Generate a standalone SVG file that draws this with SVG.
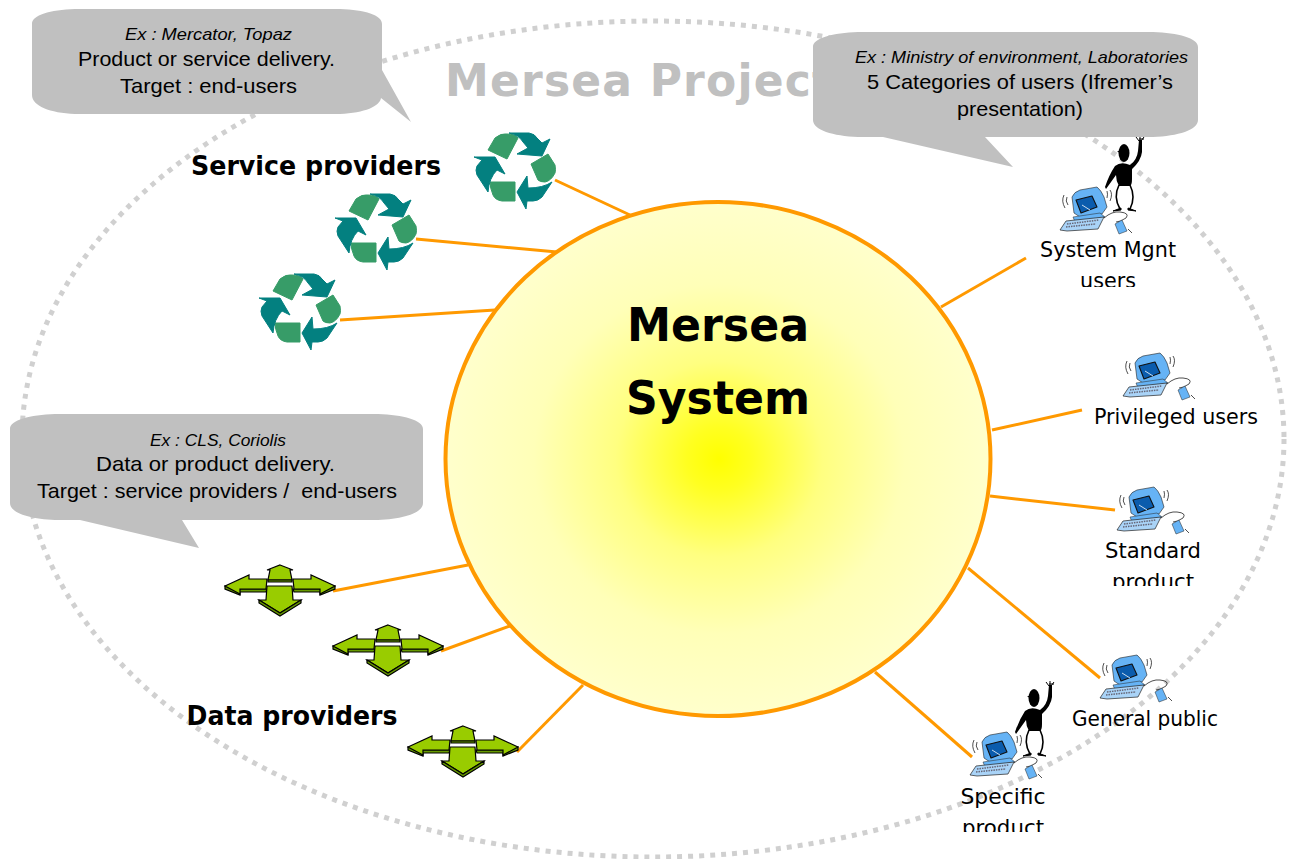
<svg xmlns="http://www.w3.org/2000/svg" xmlns:xlink="http://www.w3.org/1999/xlink" width="1295" height="859" viewBox="0 0 1295 859">
<style>
.conn{stroke:#ff9900;stroke-width:3;fill:none;stroke-linecap:butt}
.bubble{fill:#c0c0c0}
.ct{font-family:"Liberation Sans",Arial,sans-serif;text-anchor:middle;fill:#000;font-size:21px}
.ex{font-size:17px;font-style:italic}
.cm{font-family:"DejaVu Sans","Noto Sans",sans-serif;fill:#000;text-anchor:middle}
.lbl{font-size:21px}
.head{font-size:26px;font-weight:bold}
.t{fill:#038080;stroke:#038080;stroke-width:1;stroke-linejoin:round}
.g{fill:#379c68;stroke:#379c68;stroke-width:1;stroke-linejoin:round}
</style>
<defs>
<radialGradient id="sun" gradientUnits="objectBoundingBox" cx="0.502" cy="0.5" r="0.5">
<stop offset="0" stop-color="#ffff00"/><stop offset="0.12" stop-color="#ffff20"/><stop offset="0.38" stop-color="#ffff80"/><stop offset="0.68" stop-color="#ffffb8"/><stop offset="1" stop-color="#ffffcc"/>
</radialGradient>
<g id="recycle">
<path class="g" d="M-27-20L-20-32Q-14-37-8-36Q0-36 3-32L-8-11Z"/>
<path class="t" d="M-6-37L14-37Q20-36 22-32L27-27L35-31L27-14L2-16L13-22L8-28Q4-35-6-37Z"/>
<path class="g" d="M16-6L33-16L40-5Q41 0 40 3Q36 11 30 12Q25 12 23 10Z"/>
<path class="t" d="M12 6L13 18Q28 18 37 12L27 27Q23 31 18 31L12 31L11 39L2 22Z"/>
<path class="g" d="M-25 12L0 12L0 31L-13 31Q-20 30-22 25Q-25 18-25 12Z"/>
<path class="t" d="M-41-13L-20-13L-10 4L-18 0Q-26 8-27 22L-38 5Q-40 0-38-4L-33-10Z"/>
</g>
<g id="arrows" stroke="#000" stroke-width="1.2" stroke-linejoin="miter">
<path fill="#669900" d="M-55 3L-55 6L-40 12L-40 9L-14 9L-13 6L-40 6Z"/>
<path fill="#669900" d="M55 3L55 6L40 12L40 9L14 9L13 6L40 6Z"/>
<path fill="#99cc00" d="M-55 3L-31-8L-31-4L-13-4L-14 6L-40 6L-40 11Z"/>
<path fill="#99cc00" d="M55 3L31-8L31-4L13-4L14 6L40 6L40 11Z"/>
<path fill="#99cc00" d="M0-18L13-13L10-13L12-3L-12-3L-10-13L-13-13Z"/>
<path fill="#669900" d="M-12-3L12-3L12-1L-12-1Z"/>
<path fill="#99cc00" d="M-13 3L12 3L13 17L21 17L0 30L-21 17L-14 17Z"/>
<path fill="#669900" d="M-21 17L0 30L21 17L21 20L0 33L-21 20Z"/>
</g>
<g id="computer" stroke-linejoin="round">
<path fill="#66b3f5" stroke="#222" stroke-width=".6" d="M12 10Q14 5 20 3L37 0Q41 3 44 10L47 20L42 27L20 30L14 26Z"/>
<path fill="#0b5cad" stroke="#111" stroke-width="1.1" d="M16 13L32 9L37 20L21 26Z"/>
<path stroke="#cde" stroke-width="1" fill="none" d="M22 18L30 23"/>
<path fill="#66b3f5" stroke="#222" stroke-width=".5" d="M13 30L40 26L45 30L15 35Z"/>
<path fill="#a9d3f7" stroke="#222" stroke-width=".7" d="M0 43L6 34L44 30L38 42L7 44Z"/>
<path stroke="#667" stroke-width="1.5" stroke-dasharray="1.5 1" fill="none" d="M7 37L39 33M6 40L36 37"/>
<path fill="none" stroke="#222" stroke-width=".8" d="M44 31Q52 24 60 25Q70 26 66 31Q60 35 56 35"/>
<path fill="#66b3f5" stroke="#222" stroke-width=".5" d="M55 37L62 33L67 44L59 47Z"/>
<path fill="none" stroke="#222" stroke-width=".8" d="M4 8Q1 14 5 21M7 10Q5 14 8 18M50 3Q53 7 50 14M47 4Q48 7 47 11M68 42L72 46"/>
</g>
<g id="person">
<ellipse cx="0" cy="0" rx="5.5" ry="9"/>
<path d="M-7-2L-2-2L-3 1Z"/>
<path d="M-9 13Q-3 8 6 12Q13 7 14-2L15-13L18-13L18-1Q17 8 8 16L8 26Q8 32 6 33L-5 33Q-8 28-8 22L-18 36L-19 34Q-15 22-9 13Z"/>
<path d="M15-12L12-16M16-12L16-17M17-12L20-16M15-14L20-14" stroke="#000" stroke-width="1"/>
<path fill="none" stroke="#000" stroke-width="1.6" d="M-5 32Q-11 44-4 56M6 32Q12 44 6 56"/>
<path d="M-11 58L-3 55L-3 57ZM4 55L12 58L4 57Z" stroke="#000" stroke-width="1"/>
</g>
<clipPath id="c1"><rect x="1000" y="235" width="220" height="52"/></clipPath>
<clipPath id="c2"><rect x="1060" y="535" width="200" height="51"/></clipPath>
<clipPath id="c3"><rect x="930" y="780" width="150" height="52"/></clipPath>
</defs>

<g id="boundary">
<ellipse cx="653" cy="439" rx="631" ry="418" fill="none" stroke="#d0d0d0" stroke-width="5" stroke-dasharray="5 6"/>
</g>
<g id="project-title">
<text class="cm" x="445" y="96" style="font-size:44px;font-weight:bold;fill:#c0c0c0;text-anchor:start" textLength="388" lengthAdjust="spacing">Mersea Project</text>
</g>

<g id="connectors">
<path class="conn" d="M555 180L630 215"/>
<path class="conn" d="M416 239L557 252"/>
<path class="conn" d="M340 320L495 310"/>
<path class="conn" d="M333 591L468 565"/>
<path class="conn" d="M441 651L510 626"/>
<path class="conn" d="M517 752L583 685"/>
<path class="conn" d="M941 307L1026 258"/>
<path class="conn" d="M992 430L1082 410"/>
<path class="conn" d="M990 496L1115 510"/>
<path class="conn" d="M968 568L1100 678"/>
<path class="conn" d="M875 672L972 757"/>
</g>

<g id="mersea-system">
<ellipse cx="718" cy="459" rx="272.500" ry="257" fill="url(#sun)" stroke="#ff9900" stroke-width="4"/>
<text class="cm" x="718" y="341" style="font-size:46px;font-weight:bold" textLength="182" lengthAdjust="spacingAndGlyphs">Mersea</text>
<text class="cm" x="718" y="414" style="font-size:46px;font-weight:bold" textLength="184" lengthAdjust="spacingAndGlyphs">System</text>
</g>

<g id="service-providers">
<text class="cm head" x="316" y="175" textLength="250" lengthAdjust="spacingAndGlyphs">Service providers</text>
<use xlink:href="#recycle" href="#recycle" x="515" y="170"/>
<use xlink:href="#recycle" href="#recycle" x="376" y="231"/>
<use xlink:href="#recycle" href="#recycle" x="300" y="311"/>
</g>

<g id="data-providers">
<text class="cm head" x="292" y="725" textLength="211" lengthAdjust="spacingAndGlyphs">Data providers</text>
<use xlink:href="#arrows" href="#arrows" x="280" y="583"/>
<use xlink:href="#arrows" href="#arrows" x="388" y="643"/>
<use xlink:href="#arrows" href="#arrows" x="463" y="744"/>
</g>

<g id="system-mgnt-users">
<use xlink:href="#person" href="#person" x="1124" y="153"/>
<use xlink:href="#computer" href="#computer" x="1060" y="187"/>
<text class="cm lbl" x="1108" y="257" textLength="136" lengthAdjust="spacingAndGlyphs">System Mgnt</text>
<text class="cm lbl" x="1108" y="288" clip-path="url(#c1)" textLength="56" lengthAdjust="spacingAndGlyphs">users</text>
</g>
<g id="privileged-users">
<use xlink:href="#computer" href="#computer" x="1123" y="353"/>
<text class="cm lbl" x="1176" y="424" textLength="164" lengthAdjust="spacingAndGlyphs">Privileged users</text>
</g>
<g id="standard-product">
<use xlink:href="#computer" href="#computer" x="1117" y="487"/>
<text class="cm lbl" x="1153" y="558" textLength="96" lengthAdjust="spacingAndGlyphs">Standard</text>
<text class="cm lbl" x="1153" y="589" clip-path="url(#c2)" textLength="82" lengthAdjust="spacingAndGlyphs">product</text>
</g>
<g id="general-public">
<use xlink:href="#computer" href="#computer" x="1100" y="655"/>
<text class="cm lbl" x="1145" y="726" textLength="146" lengthAdjust="spacingAndGlyphs">General public</text>
</g>
<g id="specific-product">
<use xlink:href="#person" href="#person" x="1034" y="698"/>
<use xlink:href="#computer" href="#computer" x="970" y="732"/>
<text class="cm lbl" x="1003" y="804" textLength="85" lengthAdjust="spacingAndGlyphs">Specific</text>
<text class="cm lbl" x="1003" y="835" clip-path="url(#c3)" textLength="82" lengthAdjust="spacingAndGlyphs">product</text>
</g>

<g id="callout-service">
<path class="bubble" d="M75 9L340 9C365 10 382 15 382 24L382 70L411 122L381 98C380 106 365 113 340 114L75 114C50 113 32 106 32 95L32 24C32 15 50 10 75 9Z"/>
<text class="ct ex" x="208.500" y="40" textLength="167" lengthAdjust="spacingAndGlyphs">Ex : Mercator, Topaz</text>
<text class="ct" x="206.500" y="66" textLength="257" lengthAdjust="spacingAndGlyphs">Product or service delivery.</text>
<text class="ct" x="208.500" y="93" textLength="177" lengthAdjust="spacingAndGlyphs">Target : end-users</text>
</g>
<g id="callout-users">
<path class="bubble" d="M858 32L1153 32C1178 33 1198 38 1198 47L1198 120C1198 130 1178 136 1153 137L985 137L1013 167L883 137L858 137C833 136 813 130 813 120L813 47C813 38 833 33 858 32Z"/>
<text class="ct ex" x="1021.500" y="63" textLength="333" lengthAdjust="spacingAndGlyphs">Ex : Ministry of environment, Laboratories</text>
<text class="ct" x="1020" y="89" textLength="306" lengthAdjust="spacingAndGlyphs">5 Categories of users (Ifremer’s</text>
<text class="ct" x="1020" y="116" textLength="126" lengthAdjust="spacingAndGlyphs">presentation)</text>
</g>
<g id="callout-data">
<path class="bubble" d="M55 414L378 414C403 415 423 420 423 429L423 503C423 513 403 519 378 520L182 520L199 548L80 520L55 520C30 519 10 513 10 503L10 429C10 420 30 415 55 414Z"/>
<text class="ct ex" x="218" y="446" textLength="136" lengthAdjust="spacingAndGlyphs">Ex : CLS, Coriolis</text>
<text class="ct" x="215.500" y="471" textLength="239" lengthAdjust="spacingAndGlyphs">Data or product delivery.</text>
<text class="ct" x="217" y="498" textLength="360" lengthAdjust="spacingAndGlyphs">Target : service providers / &#160;end-users</text>
</g>
</svg>
